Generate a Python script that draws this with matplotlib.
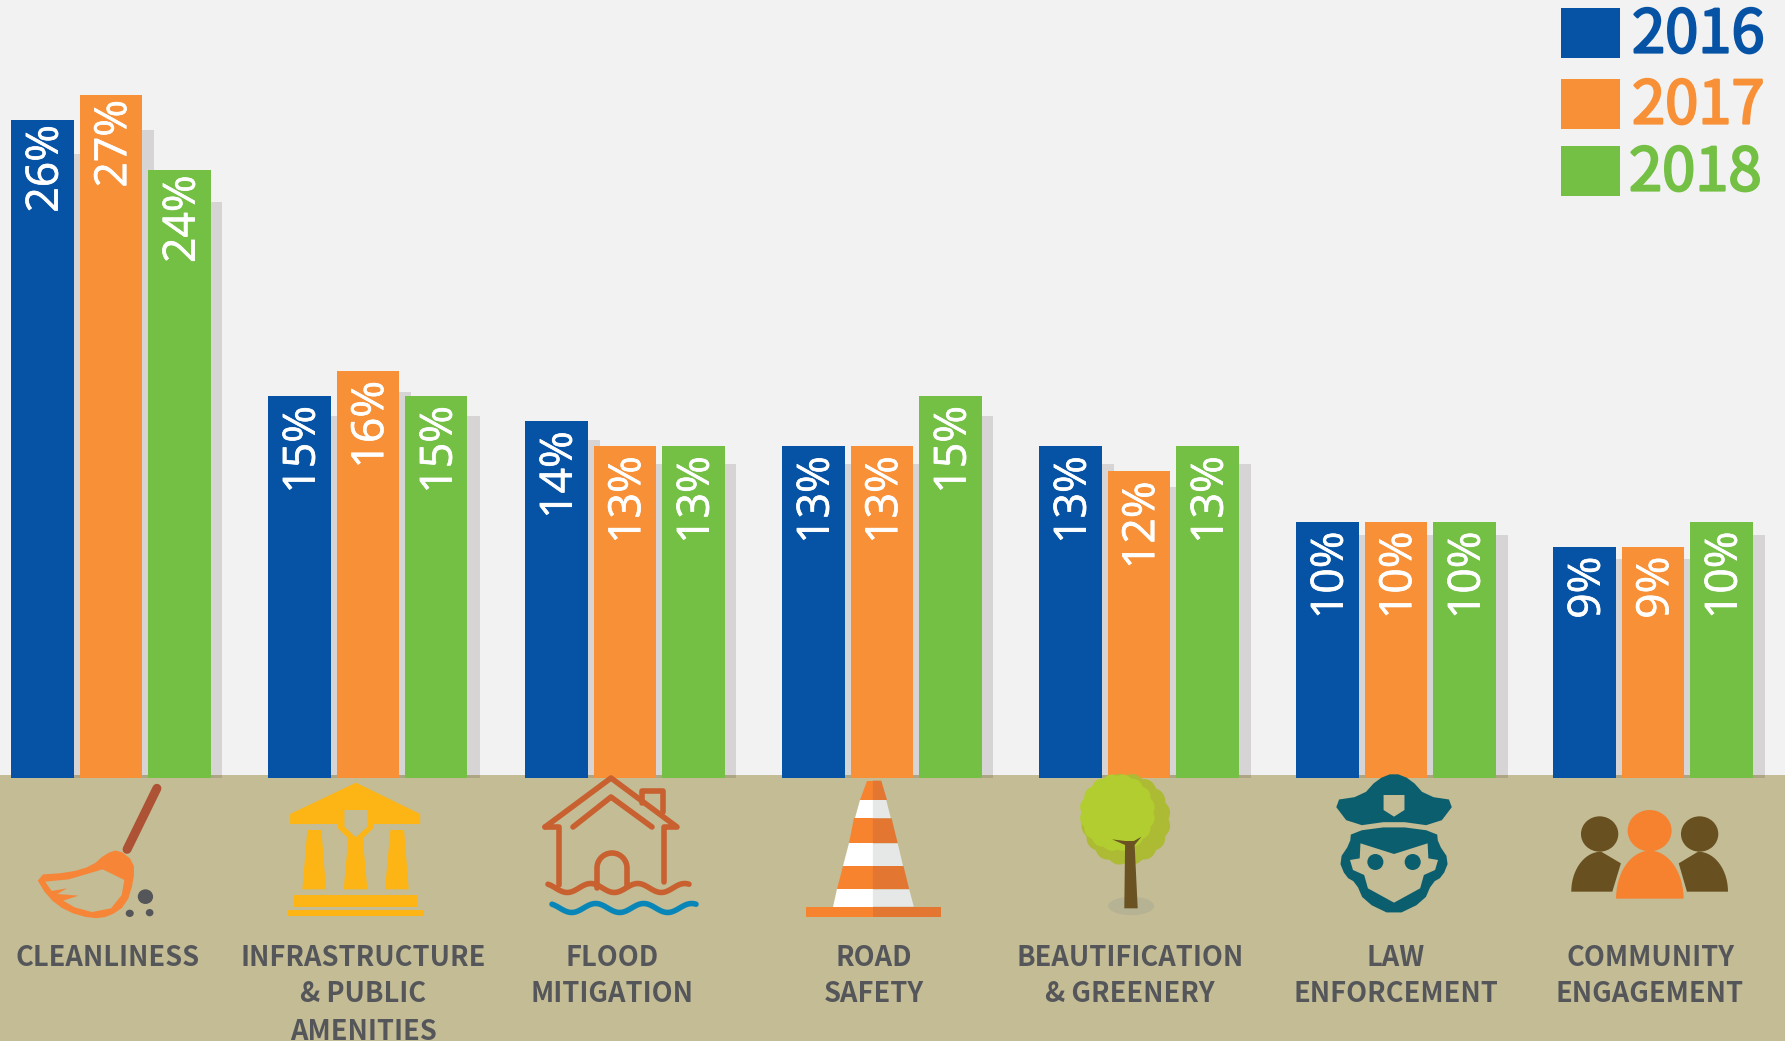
import numpy as np
import matplotlib
matplotlib.use('Agg')
import matplotlib.pyplot as plt
import matplotlib.patheffects as pe
from matplotlib.patches import Polygon, Ellipse, Rectangle

categories = ['CLEANLINESS', 'INFRASTRUCTURE\n& PUBLIC\nAMENITIES', 'FLOOD\nMITIGATION', 'ROAD\nSAFETY',
              'BEAUTIFICATION\n& GREENERY', 'LAW\nENFORCEMENT', 'COMMUNITY\nENGAGEMENT']
years = ['2016', '2017', '2018']
values_2016 = [26, 15, 14, 13, 13, 10, 9]
values_2017 = [27, 16, 13, 13, 12, 10, 9]
values_2018 = [24, 15, 13, 15, 13, 10, 10]
label_centers = [108, 363, 612, 874, 1130, 1396, 1650]

BLUE = '#0652a5'
ORANGE = '#f79036'
GREEN = '#74c044'
GROUND = '#c3bc95'
TEXT = '#55565a'
W, H = 1785, 1041

label_font = ['Noto Sans CJK SC', 'DejaVu Sans']


def z1(pts):
    return [(x / 2.613, 760 + y / 3) for x, y in pts]


def z2(pts):
    return [(600 + x / 2.613, 760 + y / 3) for x, y in pts]


def z3(pts):
    return [(1200 + x / 2.68, 760 + y / 3) for x, y in pts]


def round_off(pts, n=1):
    # corner cutting, to get soft outlines on the icons
    pts = np.array(pts, dtype=float)
    for _ in range(n):
        nxt = np.roll(pts, -1, axis=0)
        pts = np.column_stack([0.75 * pts + 0.25 * nxt, 0.25 * pts + 0.75 * nxt]).reshape(-1, 2)
    return pts


def poly(ax, pts, color, soft=False, z=3):
    pts = round_off(pts) if soft else pts
    ax.add_patch(Polygon(pts, closed=True, facecolor=color, edgecolor='none', zorder=z))


def oval(ax, cx, cy, w, h, color, z=3):
    ax.add_patch(Ellipse((cx, cy), w, h, facecolor=color, edgecolor='none', zorder=z))


def line(ax, pts, color, lw=4.0, z=3):
    pts = np.array(pts)
    ax.plot(pts[:, 0], pts[:, 1], color=color, lw=lw, solid_capstyle='round', solid_joinstyle='round', zorder=z)


def draw_broom(ax):
    line(ax, z1([(410, 85), (332, 268)]), '#ad5234', lw=6.5)
    head = [(90, 345), (180, 338), (240, 318), (275, 282), (310, 268), (350, 305), (350, 360), (330, 435),
            (285, 470), (240, 476), (175, 455), (125, 412)]
    poly(ax, z1(head), '#f68538', soft=True)
    inner = [(118, 365), (180, 358), (268, 328), (325, 360), (318, 405), (290, 445), (240, 456), (195, 442),
             (165, 422), (205, 407), (150, 402), (175, 385), (135, 393)]
    poly(ax, z1(inner), GROUND, z=4)
    for x, y, w, h in [(380, 410, 40, 44), (339, 460, 21, 22), (391, 458, 20, 22)]:
        (cx, cy), = z1([(x, y)])
        oval(ax, cx, cy, w / 2.613, h / 3, TEXT)


def draw_temple(ax):
    c = '#fdb515'
    poly(ax, z1([(930, 68), (1098, 162), (1098, 192), (975, 192), (975, 205), (948, 235), (960, 388), (898, 388),
                 (910, 235), (883, 205), (883, 192), (758, 192), (758, 162)]), c)
    poly(ax, z1([(900, 150), (960, 150), (960, 200), (930, 232), (900, 200)]), GROUND, z=4)
    poly(ax, z1([(803, 210), (840, 210), (852, 388), (790, 388)]), c)
    poly(ax, z1([(1020, 210), (1056, 210), (1068, 388), (1006, 388)]), c)
    poly(ax, z1([(767, 405), (1090, 405), (1090, 441), (767, 441)]), c)
    poly(ax, z1([(752, 450), (1107, 450), (1107, 467), (752, 467)]), c)


def draw_house(ax):
    c = '#c86030'
    line(ax, [(545, 827), (611, 778), (677, 827), (664, 827), (664, 882)], c)
    line(ax, [(545, 827), (559, 827), (559, 885)], c)
    line(ax, [(573, 827), (611, 797), (652, 827)], c)
    line(ax, [(642, 803), (642, 791), (663, 791), (663, 812)], c)
    t = np.linspace(0, np.pi, 30)
    door = [(597, 888)] + [(612 - 15 * np.cos(a), 868 - 15 * np.sin(a)) for a in t] + [(627, 886)]
    line(ax, door, c)
    xs = np.linspace(548, 689, 80)
    line(ax, np.column_stack([xs, 888 + 4.5 * np.sin((xs - 548) / 141 * 2 * np.pi * 3 - 1.0)]), c)
    xs = np.linspace(552, 696, 80)
    line(ax, np.column_stack([xs, 908 + 4.5 * np.sin((xs - 552) / 144 * 2 * np.pi * 3 - 1.0)]), '#0986b8')


def draw_cone(ax):
    stripes = [((697, 735), (680, 750), 62, 120, '#f8832f', '#e37732'),
               ((680, 748), (667, 760), 120, 175, '#ffffff', '#e6e7e7'),
               ((665, 762), (650, 778), 175, 250, '#f8832f', '#e37732'),
               ((650, 778), (636, 792), 250, 318, '#ffffff', '#e6e7e7'),
               ((636, 793), (620, 808), 318, 388, '#f8832f', '#e37732'),
               ((620, 808), (609, 820), 388, 440, '#ffffff', '#e6e7e7'),
               ((537, 890), (537, 890), 440, 472, '#f8832f', '#e37732')]
    mid = 713
    for (tl, tr), (bl, br), y0, y1, left, right in stripes:
        poly(ax, z2([(tl, y0), (mid, y0), (mid, y1), (bl, y1)]), left)
        poly(ax, z2([(mid, y0), (tr, y0), (br, y1), (mid, y1)]), right)


def draw_tree(ax):
    (cx, cy), = z2([(1388, 438)])
    oval(ax, cx, cy, 120 / 2.613, 55 / 3, '#b6b294')
    a = np.linspace(0, 2 * np.pi, 360)
    (cx, cy), = z2([(1374, 178)])
    r = 0.97 + 0.05 * np.abs(np.sin(8 * a))
    poly(ax, np.column_stack([cx + 44 * r * np.cos(a), cy + 45 * r * np.sin(a)]), '#adbb34')
    (cx, cy), = z2([(1352, 158)])
    poly(ax, np.column_stack([cx + 37 * r * np.cos(a), cy + 38 * r * np.sin(a)]), '#b2cd30', z=4)
    poly(ax, z2([(1338, 238), (1372, 243), (1395, 243), (1415, 230), (1397, 255), (1405, 445), (1370, 445),
                 (1372, 255)]), '#6a5222', z=5)


def draw_officer(ax):
    c = '#0b5e6d'
    poly(ax, z3([(520, 38), (565, 58), (605, 108), (688, 122), (635, 200), (520, 182), (405, 200), (352, 122),
                 (435, 108), (475, 58)]), c, soft=True)
    poly(ax, z3([(492, 105), (548, 105), (548, 150), (520, 170), (492, 150)]), GROUND, z=4)
    outer = [(405, 215), (520, 198), (635, 215), (638, 250), (668, 300), (650, 350), (622, 368), (600, 425),
             (520, 468), (440, 425), (418, 368), (390, 350), (372, 300), (402, 250)]
    poly(ax, z3(outer), c, soft=True)
    inner = [(430, 250), (520, 282), (610, 250), (612, 295), (638, 300), (630, 330), (600, 345), (590, 385),
             (520, 428), (450, 385), (440, 345), (410, 330), (402, 300), (428, 295)]
    poly(ax, z3(inner), GROUND, z=4)
    for x in (470, 570):
        (cx, cy), = z3([(x, 306)])
        oval(ax, cx, cy, 43 / 2.68, 48 / 3, c, z=5)


def draw_people(ax):
    brown = '#685020'
    orange = '#f68230'
    for x in (1071, 1339):
        (cx, cy), = z3([(x, 222)])
        oval(ax, cx, cy, 100 / 2.68, 106 / 3, brown)
    t = np.linspace(0, np.pi / 2, 20)
    left = [(995, 395)] + [(1075 - 80 * np.cos(a), 395 - 120 * np.sin(a)) for a in t] + [(1128, 310), (1105, 395)]
    right = [(1415, 395)] + [(1335 + 80 * np.cos(a), 395 - 120 * np.sin(a)) for a in t] + [(1283, 310), (1305, 395)]
    poly(ax, z3(left), brown)
    poly(ax, z3(right), brown)
    (cx, cy), = z3([(1205, 212)])
    oval(ax, cx, cy, 118 / 2.68, 124 / 3, orange)
    t = np.linspace(0, np.pi, 40)
    body = [(1205.5 - 90.5 * np.cos(a), 416 - 144 * np.sin(a)) for a in t]
    poly(ax, z3(body), orange)


fig = plt.figure(figsize=(W / 100, H / 100), dpi=100, facecolor='#f2f2f2')

# ground band sits under the bars, icons sit over them
bg_ax = fig.add_axes([0, 0, 1, 1], zorder=0)
bg_ax.set_xlim(0, W)
bg_ax.set_ylim(H, 0)
bg_ax.axis('off')
bg_ax.add_patch(Rectangle((0, 775), W, H - 775, facecolor=GROUND, edgecolor='none'))

ax = fig.add_axes([0, 0, 1, 1], zorder=1)
ax.patch.set_alpha(0)
ax.axis('off')
group_px = 257
unit_px = 25.1
zero_px = 772.6
ax.set_xlim(-11 / group_px, (W - 11) / group_px)
ax.set_ylim(-(H - zero_px) / unit_px, zero_px / unit_px)

bottom = -(778 - zero_px) / unit_px
bar_w = 62.5 / group_px
step = 68.5 / group_px
shadow_dx = 12 / group_px
x = np.arange(len(categories))

for j, vals in enumerate([values_2016, values_2017, values_2018]):
    vals = np.array(vals)
    ax.bar(x + j * step + shadow_dx, (vals - bottom) * 0.948, bottom=bottom, width=bar_w, align='edge',
           color='#1a1010', alpha=0.13, linewidth=0, zorder=1)
for j, (vals, color) in enumerate(zip([values_2016, values_2017, values_2018], [BLUE, ORANGE, GREEN])):
    vals = np.array(vals)
    ax.bar(x + j * step, vals - bottom, bottom=bottom, width=bar_w, align='edge', color=color, linewidth=0, zorder=2)
    for xi, v in zip(x, vals):
        pad = -3.5 if v > 20 else -7
        ax.annotate(f'{v}%', (xi + j * step + bar_w / 2, v), xytext=(3, pad), textcoords='offset points',
                    rotation=90, ha='center', va='top', color='white', fontsize=32, family='Open Sans',
                    path_effects=[pe.withStroke(linewidth=0.5, foreground='white')], zorder=3)

top = fig.add_axes([0, 0, 1, 1], zorder=2)
top.patch.set_alpha(0)
top.set_xlim(0, W)
top.set_ylim(H, 0)
top.axis('off')

draw_broom(top)
draw_temple(top)
draw_house(top)
draw_cone(top)
draw_tree(top)
draw_officer(top)
draw_people(top)

line_ys = [957.5, 994.5, 1031.5]
for name, cx in zip(categories, label_centers):
    for part, y in zip(name.split('\n'), line_ys):
        top.text(cx, y, part, ha='center', va='center', fontsize=19.6, fontweight='bold', color=TEXT,
                 family=label_font)

legend_boxes = [(8, 58), (79, 129), (146, 196)]
legend_text_x = [1632, 1632, 1629]
for year, color, (y0, y1), tx in zip(years, [BLUE, ORANGE, GREEN], legend_boxes, legend_text_x):
    top.add_patch(Rectangle((1561, y0), 59, y1 - y0, facecolor=color, edgecolor='none'))
    # regular weight plus a thin stroke reads as the semibold of the original
    top.text(tx, (y0 + y1) / 2 + 3, year, ha='left', va='center', fontsize=43, color=color, family=label_font,
             path_effects=[pe.withStroke(linewidth=1.6, foreground=color)])

fig.savefig('out.png', dpi=100, facecolor=fig.get_facecolor())
